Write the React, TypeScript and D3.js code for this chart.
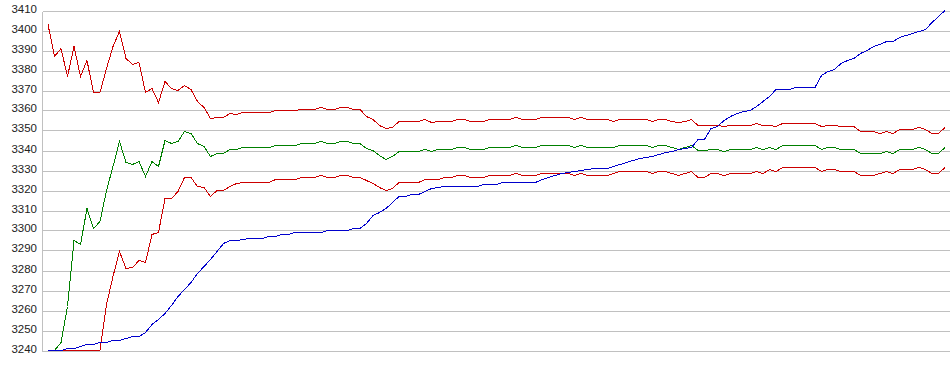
import React from "react";
import * as d3 from "d3";

const yTicks = [3240, 3250, 3260, 3270, 3280, 3290, 3300, 3310, 3320, 3330, 3340, 3350, 3360, 3370, 3380, 3390, 3400, 3410];

const upperBand = [
  3403, 3387, 3391, 3377, 3392, 3377, 3385, 3369, 3369, 3381,
  3392, 3399.5, 3386, 3383, 3384, 3369, 3371, 3364, 3374.5, 3371,
  3370, 3372.5, 3370.5, 3364.5, 3361.5, 3356, 3356.5, 3356.5, 3358.5, 3358,
  3359, 3359, 3359, 3359, 3359, 3360, 3360, 3360, 3360, 3360.5,
  3360.5, 3360.5, 3361.5, 3360.5, 3360.5, 3361.5, 3361.5, 3360.5, 3360.5, 3357,
  3355.5, 3352.5, 3351, 3351.5, 3354.5, 3354.5, 3354.5, 3354.5, 3355.5, 3354,
  3354.5, 3354.5, 3354.5, 3355.5, 3355.5, 3354.5, 3354.5, 3354.5, 3355.5, 3355.5,
  3355.5, 3355.5, 3356.5, 3355.5, 3355.5, 3355.5, 3356.5, 3356.5, 3356.5, 3356.5,
  3356.5, 3355.5, 3356.5, 3355.5, 3355.5, 3355.5, 3355.5, 3354.5, 3355.5, 3355.5,
  3355.5, 3355.5, 3355.5, 3354.5, 3355.5, 3355.5, 3354.5, 3354, 3354.5, 3355.5,
  3352.5, 3352.5, 3352.5, 3352.5, 3352, 3352.5, 3352.5, 3352.5, 3352.5, 3353.5,
  3352.5, 3352.5, 3352, 3353.5, 3353.5, 3353.5, 3353.5, 3353.5, 3353.5, 3352,
  3352.5, 3352.5, 3352, 3352, 3352, 3349.5, 3349.5, 3349.5, 3348.5, 3349.5,
  3348.5, 3350.5, 3350.5, 3350.5, 3351.5, 3350.5, 3348.5, 3348.5, 3351.5,
];

const middleLine = [
  3240, 3240, 3244, 3262, 3295, 3293, 3311, 3301, 3304.5, 3320,
  3332, 3344.5, 3334, 3333, 3334.5, 3327, 3334.5, 3332, 3345, 3343.5,
  3344.5, 3349.5, 3348.5, 3343.5, 3342, 3337, 3338.5, 3338.5, 3340.5, 3340.5,
  3341.5, 3341.5, 3341.5, 3341.5, 3341.5, 3342.5, 3342.5, 3342.5, 3342.5, 3343.5,
  3343.5, 3343.5, 3344.5, 3343.5, 3343.5, 3344.5, 3344.5, 3343.5, 3343.5, 3341,
  3340, 3337.5, 3335.5, 3337, 3339.5, 3339.5, 3339.5, 3339.5, 3340.5, 3339.5,
  3340.5, 3340.5, 3340.5, 3341.5, 3341.5, 3340.5, 3340.5, 3340.5, 3341.5, 3341.5,
  3341.5, 3341.5, 3342.5, 3341.5, 3341.5, 3341.5, 3342.5, 3342.5, 3342.5, 3342.5,
  3342.5, 3341.5, 3342.5, 3341.5, 3341.5, 3341.5, 3341.5, 3341.5, 3342.5, 3342.5,
  3342.5, 3342.5, 3342.5, 3341.5, 3342.5, 3342.5, 3341.5, 3340.5, 3341.5, 3342.5,
  3340, 3340, 3340.5, 3340.5, 3339.5, 3340.5, 3340.5, 3340.5, 3340.5, 3341.5,
  3340.5, 3341.5, 3340.5, 3342.5, 3342.5, 3342.5, 3342.5, 3342.5, 3342.5, 3340.5,
  3341.5, 3341.5, 3340.5, 3340.5, 3340.5, 3338.5, 3338.5, 3338.5, 3338.5, 3339.5,
  3338.5, 3340.5, 3340.5, 3340.5, 3341.5, 3340.5, 3338.5, 3338.5, 3341.5,
];

const lowerBand = [
  3240, 3240, 3240, 3240, 3240, 3240, 3240, 3240, 3240, 3263,
  3277, 3289.5, 3281, 3281.5, 3285, 3284, 3298, 3299, 3316, 3316,
  3319.5, 3326.5, 3326.5, 3322, 3321.5, 3317, 3320, 3320, 3322, 3323.5,
  3324, 3324, 3324, 3324, 3324, 3325.5, 3325.5, 3325.5, 3325.5, 3326.5,
  3326.5, 3326.5, 3327.5, 3326.5, 3326.5, 3327.5, 3327.5, 3326.5, 3326.5, 3325,
  3323.5, 3321.5, 3320, 3321, 3324, 3324, 3324, 3324, 3325.5, 3325.5,
  3325.5, 3326.5, 3326.5, 3327.5, 3327.5, 3326.5, 3326.5, 3326.5, 3327.5, 3327.5,
  3327.5, 3327.5, 3328.5, 3327.5, 3327.5, 3327.5, 3328.5, 3328.5, 3328.5, 3328.5,
  3328.5, 3327.5, 3328.5, 3327.5, 3327.5, 3327.5, 3327.5, 3328.5, 3329.5, 3329.5,
  3329.5, 3329.5, 3329.5, 3328.5, 3329.5, 3329.5, 3328.5, 3327.5, 3328.5, 3329.5,
  3326.5, 3326.5, 3328.5, 3328.5, 3327.5, 3328.5, 3328.5, 3328.5, 3328.5, 3329.5,
  3328.5, 3330.5, 3329.5, 3331.5, 3331.5, 3331.5, 3331.5, 3331.5, 3331.5, 3329.5,
  3330.5, 3330.5, 3329.5, 3329.5, 3329.5, 3327.5, 3327.5, 3327.5, 3328.5, 3329.5,
  3328.5, 3330.5, 3330.5, 3330.5, 3331.5, 3330.5, 3328.5, 3328.5, 3331.5,
];

const blueLine = [
  3240, 3240, 3240, 3241, 3241, 3242, 3243, 3243, 3244, 3244,
  3245, 3245, 3246, 3247, 3247, 3249, 3253, 3255.5, 3258.5, 3262.5,
  3267, 3270.5, 3274, 3278.5, 3282, 3285.5, 3289.5, 3293.5, 3295, 3295,
  3295.5, 3296, 3296, 3296, 3297, 3297, 3298, 3298, 3299, 3299,
  3299, 3299, 3299, 3300, 3300, 3300, 3300, 3301, 3301, 3303.5,
  3307.5, 3309, 3311, 3314, 3317, 3317, 3318, 3318, 3319.5, 3321,
  3321.5, 3322, 3322, 3322, 3322, 3322, 3322, 3323, 3323, 3323,
  3324, 3324, 3324, 3324, 3324, 3324, 3325.5, 3326.5, 3327.5, 3328.5,
  3329, 3329.5, 3330, 3330.5, 3331, 3331, 3331, 3332, 3333, 3334,
  3335, 3336, 3336.5, 3337, 3338, 3339, 3339.5, 3340.5, 3341, 3341.5,
  3345.5, 3345.5, 3351, 3352, 3355, 3357, 3358.5, 3359.5, 3360, 3362,
  3364.5, 3367, 3370.5, 3370.5, 3370.5, 3371.5, 3371.5, 3371.5, 3371.5, 3377.5,
  3379.5, 3380.5, 3383.5, 3385, 3386, 3388.5, 3390, 3392, 3393, 3394.5,
  3394.5, 3396.5, 3397.5, 3398.5, 3399.5, 3400.5, 3404, 3407, 3410,
];

const seriesList = [
  { name: "upper", values: upperBand, color: "#cc0000" },
  { name: "lower", values: lowerBand, color: "#cc0000" },
  { name: "middle", values: middleLine, color: "#008000" },
  { name: "blue", values: blueLine, color: "#0000cc" },
];

const W = 950;
const H = 375;

export default function App() {
  const y = d3.scaleLinear().domain([3240, 3410]).range([350.5, 10.5]);
  const x = d3.scaleLinear().domain([0, upperBand.length - 1]).range([48, 945]);
  const line = d3
    .line<number>()
    .x((_, i) => x(i))
    .y((d) => y(d));

  return (
    <svg
      width={W}
      height={H}
      style={{ position: "absolute", left: 0, top: 0, background: "#fff" }}
      fontFamily="'Liberation Sans', Arial, sans-serif"
    >
      <rect x={0} y={0} width={W} height={H} fill="#fff" />
      {yTicks.map((t) => (
        <g key={t}>
          <line
            x1={43}
            x2={W}
            y1={Math.round(y(t)) + 0.5}
            y2={Math.round(y(t)) + 0.5}
            stroke="#c0c0c0"
            strokeWidth={1}
            shapeRendering="crispEdges"
          />
          <text
            x={37}
            y={Math.round(y(t)) - 1}
            textAnchor="end"
            dominantBaseline="middle"
            fontSize={11.5}
            fill="#222"
          >
            {t}
          </text>
        </g>
      ))}
      <line
        x1={42.5}
        x2={42.5}
        y1={Math.round(y(3410)) + 0.5}
        y2={Math.round(y(3240)) + 0.5}
        stroke="#c0c0c0"
        strokeWidth={1}
        shapeRendering="crispEdges"
      />
      {seriesList.map((s) => (
        <path
          key={s.name}
          d={line(s.values) || ""}
          fill="none"
          stroke={s.color}
          strokeWidth={1}
          shapeRendering="crispEdges"
        />
      ))}
    </svg>
  );
}
